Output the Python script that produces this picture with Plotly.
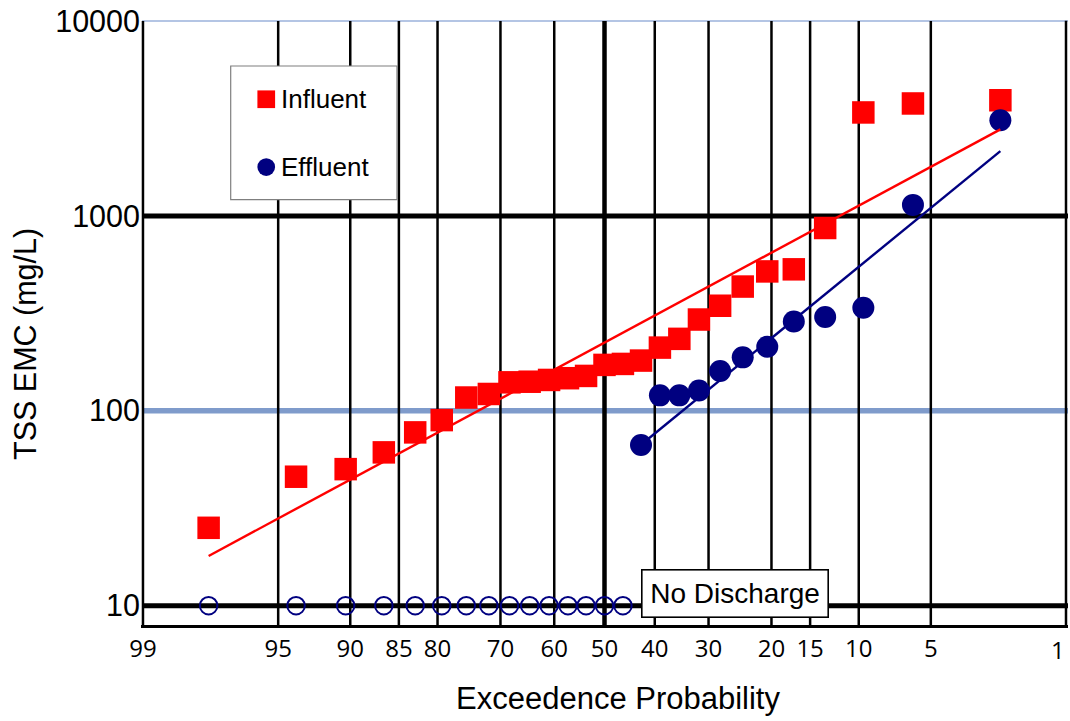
from statistics import NormalDist
import plotly.graph_objects as go

# Exceedance probability (%) of each ranked storm event
exceed_pct = [97.7, 94.0, 90.4, 86.7, 83.0, 79.4, 75.7, 72.0, 68.4, 64.7, 61.0, 57.3, 53.7, 50.0,
              46.3, 42.7, 39.0, 35.3, 31.7, 28.0, 24.3, 20.6, 17.0, 13.3, 9.6, 6.0, 2.3]

# Influent TSS event mean concentrations (mg/L)
influent = [25.1, 45.9, 50.2, 61.2, 77.5, 89.6, 117, 122, 140, 141, 144, 147, 151, 172,
            174, 181, 211, 234, 294, 346, 434, 519, 532, 867, 3395, 3775, 3921]

# Effluent: first 15 events had no discharge (plotted at 10 mg/L)
no_discharge_pct = exceed_pct[:15]
no_discharge_val = [10] * 15
effluent_pct = exceed_pct[15:]
effluent = [66.7, 120, 120, 127, 160, 188, 213, 287, 303, 338, 1139, 3097]

# Fitted log-normal trend lines (end points)
inf_fit_pct = [97.7, 2.3]
inf_fit_val = [18.0, 2780]
eff_fit_pct = [42.7, 2.3]
eff_fit_val = [67, 2150]

# Probability axis ticks
prob_ticks = [99, 95, 90, 85, 80, 70, 60, 50, 40, 30, 20, 15, 10, 5, 1]
conc_ticks = [10, 100, 1000, 10000]

nd = NormalDist()


def probit(p):
    return nd.inv_cdf(1 - p / 100.0)


RED = "#FF0000"
NAVY = "#000080"
W, H = 1070, 721
L, R, T, B = 141, 2, 19, 96
PW, PH = W - L - R, H - T - B


def px_x(px):
    return (px - L) / PW


def px_y(py):
    return (T + PH - py) / PH


fig = go.Figure()

fig.add_trace(go.Scatter(
    x=[probit(p) for p in exceed_pct], y=influent, mode="markers",
    marker=dict(symbol="square", size=22.5, color=RED), name="Influent", showlegend=False))
fig.add_trace(go.Scatter(
    x=[probit(p) for p in no_discharge_pct], y=no_discharge_val, mode="markers",
    marker=dict(symbol="circle-open", size=17.5, color=NAVY, line=dict(width=2, color=NAVY)),
    showlegend=False))
fig.add_trace(go.Scatter(
    x=[probit(p) for p in effluent_pct], y=effluent, mode="markers",
    marker=dict(symbol="circle", size=22, color=NAVY), name="Effluent", showlegend=False))
fig.add_trace(go.Scatter(
    x=[probit(p) for p in inf_fit_pct], y=inf_fit_val, mode="lines",
    line=dict(color=RED, width=2.4), showlegend=False))
fig.add_trace(go.Scatter(
    x=[probit(p) for p in eff_fit_pct], y=eff_fit_val, mode="lines",
    line=dict(color=NAVY, width=2.4), showlegend=False))

shapes = []
# Horizontal reference lines
h_styles = {10000: ("#b4c5e4", 2), 1000: ("black", 5), 100: ("#7f9bcb", 5.5), 10: ("black", 5)}
for v in conc_ticks:
    c, w = h_styles[v]
    shapes.append(dict(type="line", xref="paper", yref="y", x0=px_x(142), x1=1.0, y0=v, y1=v,
                       line=dict(color=c, width=w), layer="below"))
# Vertical probability lines (interior ones on the axis scale)
for p in prob_ticks[:-1]:
    shapes.append(dict(type="line", xref="x", yref="y", x0=probit(p), x1=probit(p),
                       y0=10 ** 0.9, y1=10000,
                       line=dict(color="black", width=4.5 if p == 50 else 2.5), layer="below"))
# Right frame line at the last probability tick
shapes.append(dict(type="line", xref="paper", yref="paper", x0=px_x(1066), x1=px_x(1066),
                   y0=px_y(626), y1=px_y(20.7),
                   line=dict(color="black", width=2.5), layer="above"))

# Legend box
shapes.append(dict(type="rect", xref="paper", yref="paper", x0=px_x(230.7), x1=px_x(397),
                   y0=px_y(199.7), y1=px_y(66), fillcolor="white",
                   line=dict(color="#7f7f7f", width=1.2), layer="above"))
shapes.append(dict(type="rect", xref="paper", yref="paper", x0=px_x(257.4), x1=px_x(275.1),
                   y0=px_y(108.1), y1=px_y(90.4), fillcolor=RED, line=dict(width=0), layer="above"))
shapes.append(dict(type="circle", xref="paper", yref="paper", x0=px_x(257.4), x1=px_x(275.1),
                   y0=px_y(175.9), y1=px_y(158.2), fillcolor=NAVY, line=dict(width=0), layer="above"))

# Tick labels on the axis; the last one sits inside the right edge
axis_ticks = prob_ticks[:-1]
edge_tick = prob_ticks[-1]

annotations = [
    dict(text="Influent", xref="paper", yref="paper", x=px_x(278.5), y=px_y(99.5),
         xanchor="left", yanchor="middle", showarrow=False,
         font=dict(family="Liberation Sans, Arial", size=26, color="black")),
    dict(text="Effluent", xref="paper", yref="paper", x=px_x(278.5), y=px_y(166.5),
         xanchor="left", yanchor="middle", showarrow=False,
         font=dict(family="Liberation Sans, Arial", size=26, color="black")),
    dict(text="No Discharge", xref="paper", yref="paper", x=px_x(735), y=px_y(593.5),
         xanchor="center", yanchor="middle", showarrow=False, width=185, height=46,
         bgcolor="white", bordercolor="black", borderwidth=1.6, borderpad=0,
         font=dict(family="Liberation Sans, Arial", size=28, color="black")),
    dict(text=str(edge_tick), xref="paper", yref="paper", x=px_x(1058), y=px_y(649),
         xanchor="center", yanchor="middle", showarrow=False,
         font=dict(family="Open Sans", size=24, color="black")),
    dict(text="Exceedence Probability", xref="paper", yref="paper", x=px_x(618), y=px_y(698),
         xanchor="center", yanchor="middle", showarrow=False,
         font=dict(family="Liberation Sans, Arial", size=31, color="black")),
    dict(text="TSS EMC (mg/L)", xref="paper", yref="paper", x=px_x(25), y=px_y(344),
         xanchor="center", yanchor="middle", showarrow=False, textangle=-90,
         font=dict(family="Liberation Sans, Arial", size=30.5, color="black")),
]

fig.update_layout(
    width=W, height=H,
    margin=dict(l=L, r=R, t=T, b=B, pad=0),
    paper_bgcolor="white", plot_bgcolor="white",
    shapes=shapes, annotations=annotations,
    showlegend=False,
    xaxis=dict(range=[-2.3363, 2.3363], tickvals=[probit(p) for p in axis_ticks],
               ticktext=[str(p) for p in axis_ticks], showgrid=False, zeroline=False,
               showline=True, linecolor="black", linewidth=2.5, ticks="",
               tickfont=dict(family="Open Sans", size=24, color="black")),
    yaxis=dict(type="log", range=[0.901, 4.0103], tickvals=conc_ticks,
               ticktext=[str(v) for v in conc_ticks], showgrid=False, zeroline=False,
               showline=False, ticks="",
               tickfont=dict(family="Liberation Sans, Arial", size=30.5, color="black")),
)

fig.write_html("out.html")
